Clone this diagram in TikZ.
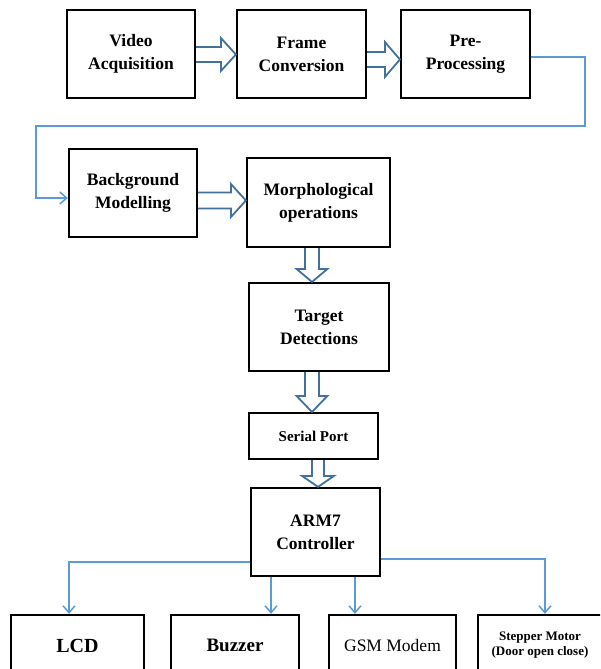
\documentclass[tikz,border=0pt]{standalone}
\usepackage{fontspec}
\setmainfont{Liberation Serif}
\usetikzlibrary{calc,arrows.meta}
\definecolor{connblue}{HTML}{5B9BD5}
\definecolor{blkblue}{HTML}{41719C}
\tikzset{
  box/.style={draw=black, line width=2.2pt, inner sep=0pt, align=center,
    font=\fontsize{17.5}{23}\selectfont\bfseries},
  blk/.style={draw=blkblue, line width=1.8pt, fill=white, line join=miter},
  conn/.style={draw=connblue, line width=1.5pt, -{Straight Barb[length=7pt,width=12pt,line width=1.5pt]}},
}
\newcommand\hblk[5]{%
  \draw[blk] let \p1=#1, \p2=#2 in (\x1,\y1+#3) -- (\x2-#5,\y1+#3) -- (\x2-#5,\y1+#4) -- (\x2,\y1) -- (\x2-#5,\y1-#4) -- (\x2-#5,\y1-#3) -- (\x1,\y1-#3);}
\newcommand\vblk[5]{%
  \draw[blk] let \p1=#1, \p2=#2 in (\x1-#3,\y1) -- (\x1-#3,\y2+#5) -- (\x1-#4,\y2+#5) -- (\x1,\y2) -- (\x1+#4,\y2+#5) -- (\x1+#3,\y2+#5) -- (\x1+#3,\y1);}
\begin{document}
\begin{tikzpicture}[x=1pt,y=-1pt]
\useasboundingbox (0,0) rectangle (600,669);
\clip (0,0) rectangle (600,669);
% nodes
\node[box, minimum width=128pt, minimum height=88pt] (va) at (131,54) {Video\\Acquisition};
\node[box, minimum width=129pt, minimum height=88pt] (fc) at (301.5,54) {Frame\\Conversion};
\node[box, minimum width=129pt, minimum height=88pt] (pp) at (465.5,54) {Pre-\\Processing};
\node[box, minimum width=128pt, minimum height=88pt] (bm) at (133,193) {Background\\Modelling};
\node[box, minimum width=143pt, minimum height=89pt] (mo) at (318.5,202.5) {Morphological\\operations};
\node[box, minimum width=140pt, minimum height=88pt] (td) at (319,327) {Target\\Detections};
\node[box, minimum width=129pt, minimum height=46pt, font=\fontsize{15}{18}\selectfont\bfseries] (sp) at (313.5,436) {Serial Port};
\node[box, minimum width=129pt, minimum height=88pt] (arm) at (315.5,532) {ARM7\\Controller};
\node[box, minimum width=133pt, minimum height=61pt, font=\fontsize{20}{24}\selectfont\bfseries] (lcd) at (77.5,645.5) {LCD};
\node[box, minimum width=128pt, minimum height=61pt, font=\fontsize{19}{23}\selectfont\bfseries] (bz) at (235,645.5) {Buzzer};
\node[box, minimum width=127pt, minimum height=61pt, font=\fontsize{17.5}{21}\selectfont] (gsm) at (392.5,645.5) {GSM Modem};
\node[box, minimum width=124pt, minimum height=61pt, font=\fontsize{13}{15}\selectfont\bfseries] (stp) at (540,645.5) {Stepper Motor\\(Door open close)};
% block arrows
\hblk{($(va.east)+(0,0.5)$)}{(fc.west)}{7.5pt}{16.5pt}{15pt}
\hblk{($(fc.east)+(0,5.5)$)}{(pp.west)}{7.5pt}{17.5pt}{15pt}
\hblk{($(bm.east)+(0,7.5)$)}{(mo.west)}{8pt}{16.5pt}{15pt}
\vblk{($(mo.south)+(-6.5,0)$)}{(td.north)}{7pt}{15.5pt}{13pt}
\vblk{($(td.south)+(-7,0)$)}{(sp.north)}{7pt}{15.5pt}{16pt}
\vblk{($(sp.south)+(4.5,0)$)}{(arm.north)}{6pt}{16pt}{11pt}
% connectors
\coordinate (t1) at (585,126);
\coordinate (t2) at (36,126);
\coordinate (bzs) at ($(arm.south)+(-44.5,0)$);
\coordinate (gss) at ($(arm.south)+(39.5,0)$);
\coordinate (lct) at ($(lcd.north)+(-8.5,0)$);
\coordinate (stt) at ($(stp.north)+(5,0)$);
\draw[conn] ($(pp.east)+(0,3)$) -| (t1) -- (t2) |- ($(bm.west)+(0,5)$);
\draw[conn] ($(arm.west)+(0,30)$) -| (lct);
\draw[conn] (bzs) -- (bzs |- bz.north);
\draw[conn] (gss) -- (gss |- gsm.north);
\draw[conn, line width=2pt] ($(arm.east)+(0,27)$) -| (stt);
\end{tikzpicture}
\end{document}
